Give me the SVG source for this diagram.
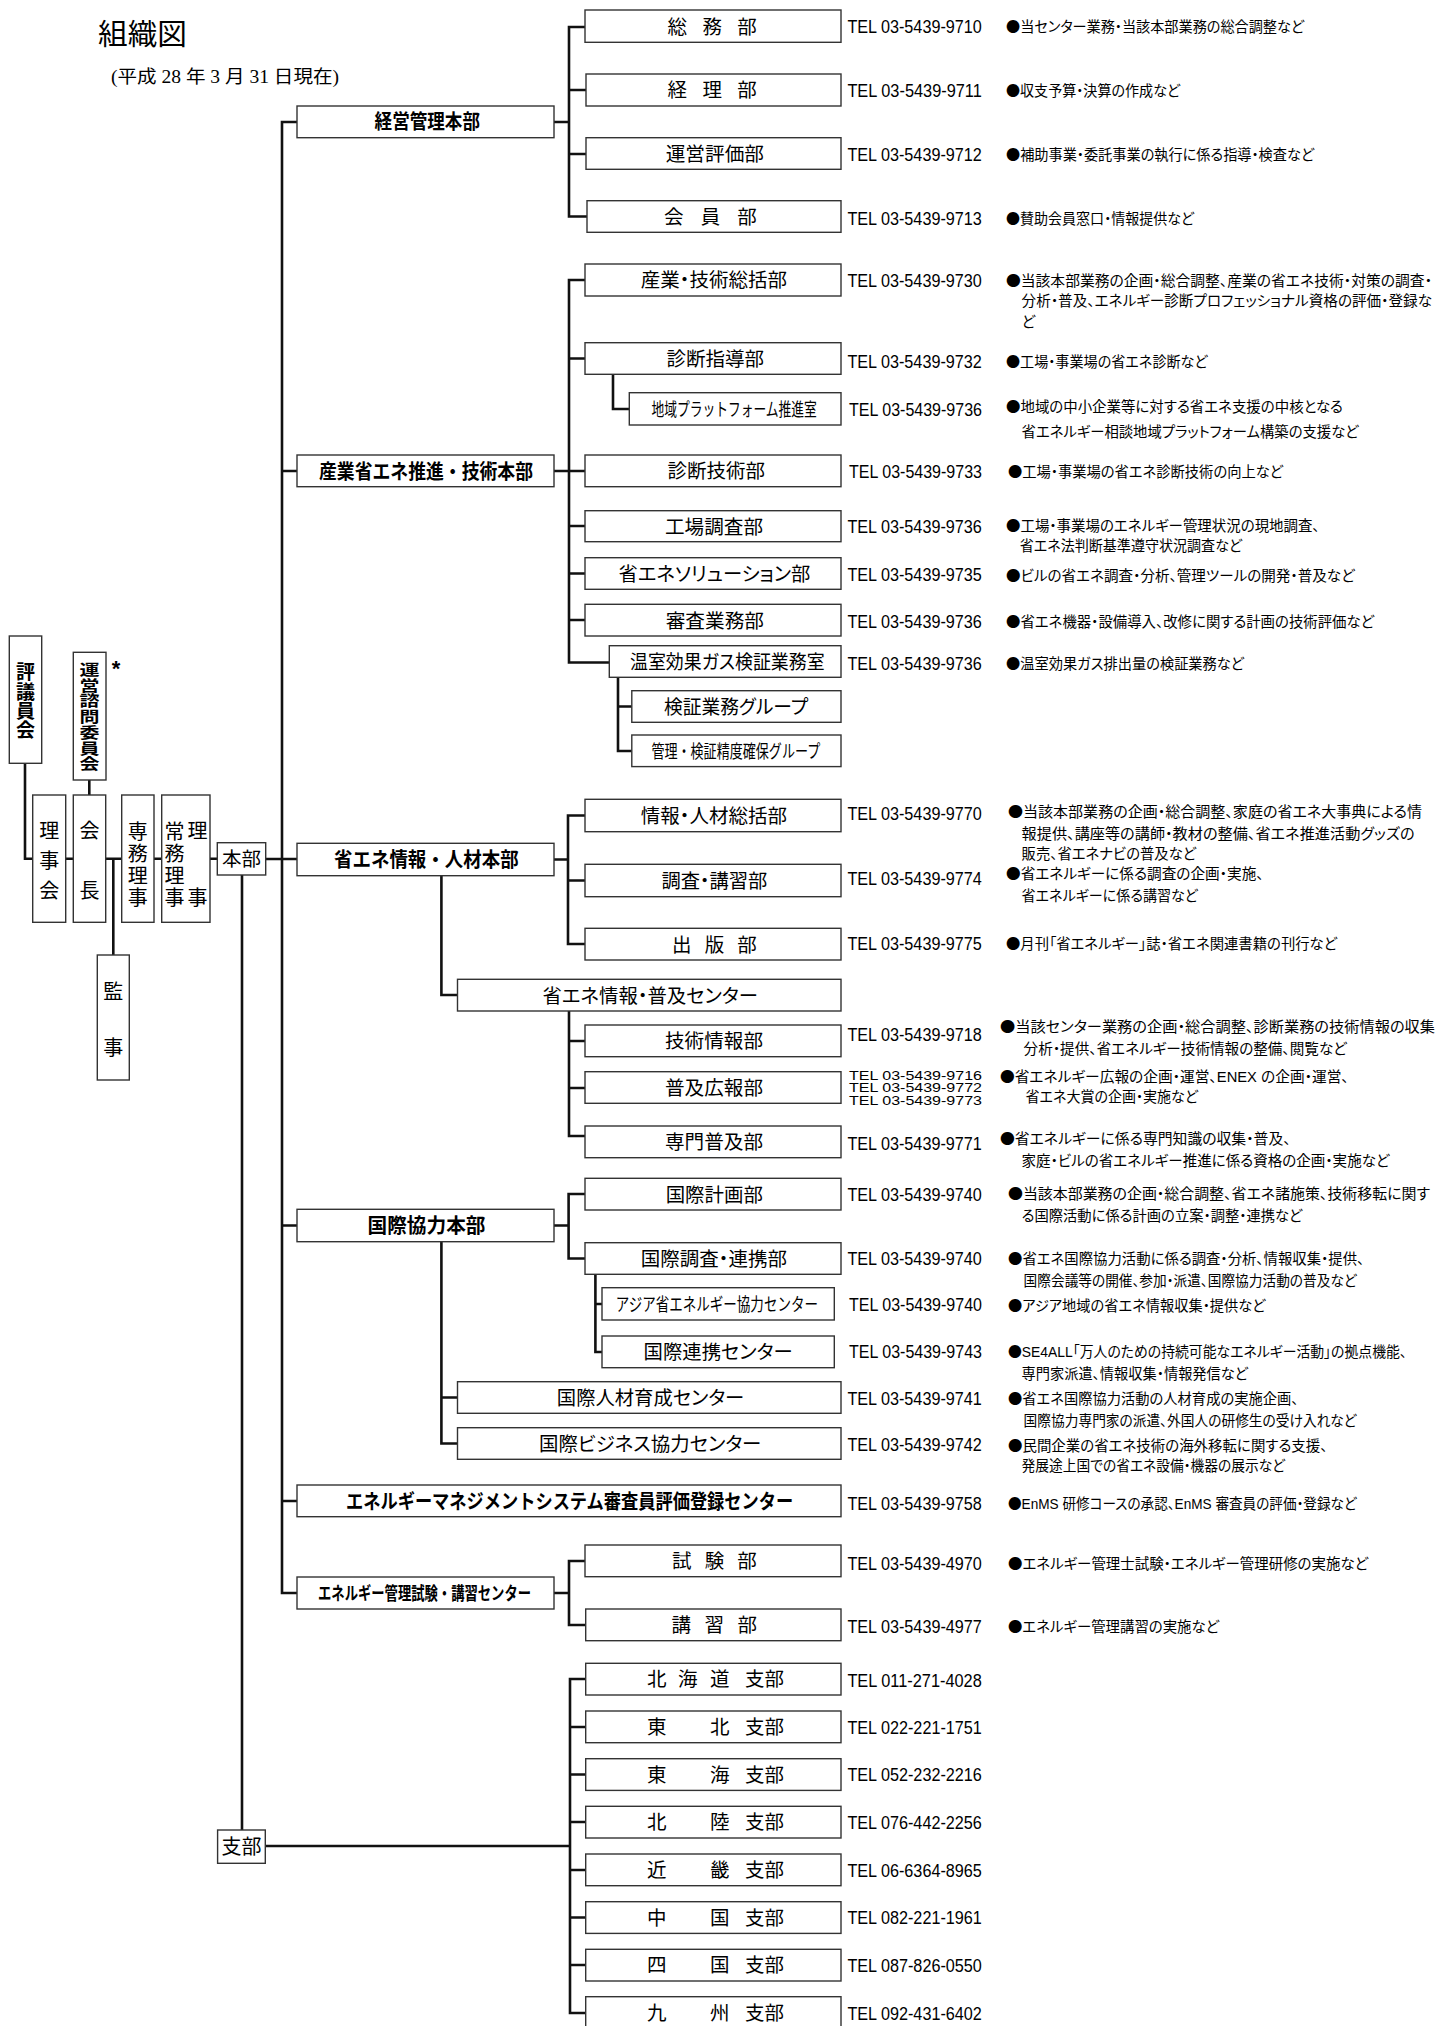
<svg xmlns="http://www.w3.org/2000/svg" width="1437" height="2026" viewBox="0 0 1437 2026">
<style>
.bx{fill:#fff;stroke:#333;stroke-width:1.4}
.cn{fill:none;stroke:#111;stroke-width:2.6;stroke-linejoin:miter;stroke-linecap:butt}
.t1{font-family:"Liberation Sans","Noto Sans CJK JP",sans-serif;font-size:20px;font-weight:bold;fill:#000}
.t2{font-family:"Liberation Sans","Noto Sans CJK JP",sans-serif;font-size:19.5px;fill:#000;font-feature-settings:"palt"}
.nc{font-size:18px;font-feature-settings:normal}
.tv{font-family:"Liberation Sans","Noto Sans CJK JP",sans-serif;font-size:20px;fill:#000;text-anchor:middle}
.tel{font-family:"Liberation Sans","Noto Sans CJK JP",sans-serif;font-size:17.5px;fill:#000}
.tel3{font-family:"Liberation Sans","Noto Sans CJK JP",sans-serif;font-size:13.5px;fill:#000}
.ds{font-family:"Liberation Sans","Noto Sans CJK JP",sans-serif;font-size:14.5px;fill:#000;font-feature-settings:"palt"}
.b{font-family:"Noto Sans CJK JP",sans-serif;font-feature-settings:normal}
.ttl{font-family:"Liberation Serif","Noto Sans CJK JP",serif;fill:#000}
</style>

<g id="title">
<text class="ttl" x="98" y="44.5" font-size="29" textLength="89" lengthAdjust="spacingAndGlyphs">組織図</text>
<text class="ttl" x="111" y="83" font-size="18" textLength="228" lengthAdjust="spacingAndGlyphs">(平成 28 年 3 月 31 日現在)</text>
</g>

<g id="connectors">
<path class="cn" d="M297,122 H282 V1593 H297"/>
<path class="cn" d="M282,471 H297 M265.7,859 H297 M282,1225.5 H297 M282,1501 H297"/>
<path class="cn" d="M554,122 H569 M585,27 H569 V216.5 H587 M569,90 H586 M569,154 H586"/>
<path class="cn" d="M554,471 H569 M585,280 H569 V662.5 H609.3 M569,358.5 H585 M569,471 H585 M569,526 H585 M569,573.5 H585 M569,620 H585"/>
<path class="cn" d="M613,374.3 V409 H629.3 M618,677.3 V751 H631.8 M618,706.5 H631.8"/>
<path class="cn" d="M554,859.5 H568 M585,815.5 H568 V944 H585 M568,880.5 H585"/>
<path class="cn" d="M441.4,875.7 V995 H457.5 M569,1011 V1136 H585 M569,1041 H585 M569,1088 H585"/>
<path class="cn" d="M554,1225.5 H568.6 M585,1194 H568.6 V1258.5 H585 M595.4,1274.3 V1352 H602 M595.4,1304 H602"/>
<path class="cn" d="M441.4,1241.7 V1443.5 H457.5 M441.4,1397.5 H457.5"/>
<path class="cn" d="M554,1593 H569 M585,1561 H569 V1625 H585"/>
<path class="cn" d="M242,875 V1830 M265.3,1846 H570 M585.7,1679 H570 V2013 H585.7 M570,1727 H585.7 M570,1774.5 H585.7 M570,1822 H585.7 M570,1870 H585.7 M570,1917.5 H585.7 M570,1965 H585.7"/>
<path class="cn" d="M25,763.3 V858.7 H32.7 M65.7,858.7 H73.3 M89.3,780 V795 M105.7,858.7 H121.7 M113.3,858.7 V955 M154,858.7 H161.7 M210,858.7 H217.3"/>
</g>

<g id="n-hyogiinkai"><rect class="bx" x="9.3" y="636" width="32.4" height="127.3"/>
<text class="tv" font-weight="bold" style="font-size:19px"><tspan x="25.5" y="679">評</tspan><tspan x="25.5" y="698.5">議</tspan><tspan x="25.5" y="718">員</tspan><tspan x="25.5" y="737">会</tspan></text></g>
<g id="n-unei-shimon"><rect class="bx" x="73.3" y="652.3" width="32.7" height="127.7"/>
<g transform="translate(89.6,716.7) scale(1,0.75)"><text class="tv" font-weight="bold"><tspan x="0" y="-55.6">運</tspan><tspan x="0" y="-34.7">営</tspan><tspan x="0" y="-13.7">諮</tspan><tspan x="0" y="7.2">問</tspan><tspan x="0" y="28.1">委</tspan><tspan x="0" y="49.1">員</tspan><tspan x="0" y="70">会</tspan></text></g>
<text x="116" y="676" font-family="Liberation Sans, sans-serif" font-size="22" font-weight="bold" text-anchor="middle">*</text></g>
<g id="n-rijikai"><rect class="bx" x="32.7" y="795" width="33" height="127.3"/>
<text class="tv"><tspan x="49.3" y="837.5">理</tspan><tspan x="49.3" y="867.5">事</tspan><tspan x="49.3" y="897.5">会</tspan></text></g>
<g id="n-kaicho"><rect class="bx" x="73.3" y="795" width="32.4" height="127.3"/>
<text class="tv"><tspan x="89.5" y="837.5">会</tspan><tspan x="89.5" y="897.5">長</tspan></text></g>
<g id="n-kanji"><rect class="bx" x="97.3" y="955" width="32" height="125"/>
<text class="tv"><tspan x="113.3" y="999">監</tspan><tspan x="113.3" y="1055">事</tspan></text></g>
<g id="n-senmu"><rect class="bx" x="121.7" y="795" width="32.3" height="127.3"/>
<text class="tv"><tspan x="137.8" y="839">専</tspan><tspan x="137.8" y="861">務</tspan><tspan x="137.8" y="883">理</tspan><tspan x="137.8" y="905">事</tspan></text></g>
<g id="n-jomu"><rect class="bx" x="161.7" y="795" width="48.3" height="127.3"/>
<text class="tv"><tspan x="197.5" y="837.5">理</tspan><tspan x="197.5" y="904.5">事</tspan></text>
<text class="tv"><tspan x="174.5" y="839">常</tspan><tspan x="174.5" y="861">務</tspan><tspan x="174.5" y="883">理</tspan><tspan x="174.5" y="905">事</tspan></text></g>
<g id="n-honbu"><rect class="bx" x="217.3" y="842.7" width="48.4" height="32.3"/>
<text class="tv" x="241.5" y="866" style="font-size:19.5px">本部</text></g>
<g id="n-shibu"><rect class="bx" x="217.6" y="1830" width="47.7" height="33.3"/>
<text class="tv" x="241.5" y="1854">支部</text></g>

<g id="n-keiei"><rect class="bx" x="297" y="106" width="257" height="31.7"/><text class="t1" x="374.6" y="129.3" textLength="105.4" lengthAdjust="spacingAndGlyphs">経営管理本部</text></g>
<g id="n-sangyo"><rect class="bx" x="297" y="455" width="257" height="31.7"/><text class="t1" x="319" y="478.8" textLength="214" lengthAdjust="spacingAndGlyphs">産業省エネ推進・技術本部</text></g>
<g id="n-joho"><rect class="bx" x="297" y="843.3" width="257" height="32.4"/><text class="t1" x="334" y="867" textLength="184.6" lengthAdjust="spacingAndGlyphs">省エネ情報・人材本部</text></g>
<g id="n-kokusai"><rect class="bx" x="297" y="1209.3" width="257" height="32.4"/><text class="t1" x="367.5" y="1233" textLength="118" lengthAdjust="spacingAndGlyphs">国際協力本部</text></g>
<g id="n-enms"><rect class="bx" x="297" y="1485" width="544" height="31.7"/><text class="t1" transform="matrix(0.8615,0,0,1,346,1508.6)" x="0" y="0">エネルギーマネジメントシステム審査員評価登録センター</text></g>
<g id="n-kanrishiken"><rect class="bx" x="297" y="1577" width="257" height="32"/><text class="t1" style="font-size:18px" transform="matrix(0.74,0,0,1,318,1600)" x="0" y="0">エネルギー管理試験・講習センター</text></g>

<g id="n-somu"><rect class="bx" x="585" y="10" width="256" height="32.3"/><text class="t2" x="667.5" y="33.6" textLength="89.3" lengthAdjust="spacing">総務部</text></g>
<g id="n-keiri"><rect class="bx" x="586" y="74" width="255" height="32"/><text class="t2" x="667.5" y="97.4" textLength="89.3" lengthAdjust="spacing">経理部</text></g>
<g id="n-hyoka"><rect class="bx" x="586" y="137.7" width="255" height="31.6"/><text class="t2" x="665.7" y="160.9" textLength="98.3" lengthAdjust="spacingAndGlyphs">運営評価部</text></g>
<g id="n-kaiin"><rect class="bx" x="587" y="200.7" width="254" height="31.6"/><text class="t2" x="664" y="223.9" textLength="92.8" lengthAdjust="spacing">会員部</text></g>

<g id="n-sokatsu"><rect class="bx" x="585" y="264" width="256" height="32"/><text class="t2" x="640.7" y="287.4" textLength="146.3" lengthAdjust="spacingAndGlyphs">産業・技術総括部</text></g>
<g id="n-shidan-shido"><rect class="bx" x="585" y="342.7" width="256" height="31.6"/><text class="t2" x="666.4" y="365.9" textLength="97.6" lengthAdjust="spacingAndGlyphs">診断指導部</text></g>
<g id="n-chiiki"><rect class="bx" x="629.3" y="392.7" width="211.7" height="32.3"/><text class="t2 nc" transform="matrix(0.709,0,0,1,651.4,416.2)" x="0" y="0">地域プラットフォーム推進室</text></g>
<g id="n-shidan-gijutsu"><rect class="bx" x="585" y="455" width="256" height="31.7"/><text class="t2" x="667.5" y="478.3" textLength="97.5" lengthAdjust="spacingAndGlyphs">診断技術部</text></g>
<g id="n-kojo"><rect class="bx" x="585" y="510.7" width="256" height="31"/><text class="t2" x="665" y="533.6" textLength="98" lengthAdjust="spacingAndGlyphs">工場調査部</text></g>
<g id="n-solution"><rect class="bx" x="585" y="557.7" width="256" height="31.6"/><text class="t2" x="618.6" y="580.9" textLength="191.8" lengthAdjust="spacingAndGlyphs">省エネソリューション部</text></g>
<g id="n-shinsa"><rect class="bx" x="585" y="604.3" width="256" height="31.7"/><text class="t2" x="665.7" y="627.6" textLength="98.3" lengthAdjust="spacingAndGlyphs">審査業務部</text></g>
<g id="n-onshitsu"><rect class="bx" x="609.3" y="645.7" width="231.7" height="31.6"/><text class="t2" x="630" y="668.9" textLength="194.6" lengthAdjust="spacingAndGlyphs">温室効果ガス検証業務室</text></g>
<g id="n-kensho"><rect class="bx" x="631.8" y="690.7" width="209.2" height="31.6"/><text class="t2" x="664" y="713.9" textLength="144" lengthAdjust="spacingAndGlyphs">検証業務グループ</text></g>
<g id="n-kanri-kensho"><rect class="bx" x="631.8" y="735" width="209.2" height="31.6"/><text class="t2 nc" transform="matrix(0.725,0,0,1,651.4,758.2)" x="0" y="0">管理・検証精度確保グループ</text></g>

<g id="n-joho-sokatsu"><rect class="bx" x="585" y="799.3" width="256" height="32.4"/><text class="t2" x="640.7" y="822.9" textLength="146.3" lengthAdjust="spacingAndGlyphs">情報・人材総括部</text></g>
<g id="n-chosa-koshu"><rect class="bx" x="585" y="864.3" width="256" height="32.4"/><text class="t2" x="661.4" y="887.9" textLength="106" lengthAdjust="spacingAndGlyphs">調査・講習部</text></g>
<g id="n-shuppan"><rect class="bx" x="585" y="928.3" width="256" height="31.7"/><text class="t2" x="672" y="951.6" textLength="84.8" lengthAdjust="spacing">出版部</text></g>
<g id="n-fukyu-center"><rect class="bx" x="457.5" y="979.3" width="383.5" height="31.7"/><text class="t2" x="542.5" y="1002.6" textLength="215.4" lengthAdjust="spacingAndGlyphs">省エネ情報・普及センター</text></g>
<g id="n-gijutsu-joho"><rect class="bx" x="585" y="1025" width="256" height="31.7"/><text class="t2" x="665" y="1048.3" textLength="98" lengthAdjust="spacingAndGlyphs">技術情報部</text></g>
<g id="n-fukyu-koho"><rect class="bx" x="585" y="1071.7" width="256" height="31.6"/><text class="t2" x="665" y="1094.9" textLength="98" lengthAdjust="spacingAndGlyphs">普及広報部</text></g>
<g id="n-senmon"><rect class="bx" x="585" y="1126" width="256" height="31.7"/><text class="t2" x="665" y="1149.3" textLength="98" lengthAdjust="spacingAndGlyphs">専門普及部</text></g>

<g id="n-kokusai-keikaku"><rect class="bx" x="585" y="1178.3" width="256" height="31.7"/><text class="t2" x="665.7" y="1201.6" textLength="97.2" lengthAdjust="spacingAndGlyphs">国際計画部</text></g>
<g id="n-kokusai-chosa"><rect class="bx" x="585" y="1242.7" width="256" height="31.6"/><text class="t2" x="640.7" y="1265.9" textLength="146.3" lengthAdjust="spacingAndGlyphs">国際調査・連携部</text></g>
<g id="n-asia"><rect class="bx" x="602" y="1287.7" width="232.3" height="32.3"/><text class="t2 nc" transform="matrix(0.752,0,0,1,615.7,1311.2)" x="0" y="0">アジア省エネルギー協力センター</text></g>
<g id="n-renkei"><rect class="bx" x="602" y="1336" width="232.3" height="31.7"/><text class="t2" x="643.6" y="1359.3" textLength="149" lengthAdjust="spacingAndGlyphs">国際連携センター</text></g>
<g id="n-jinzai"><rect class="bx" x="457.5" y="1381.7" width="383.5" height="31.6"/><text class="t2" x="556.8" y="1404.9" textLength="187.5" lengthAdjust="spacingAndGlyphs">国際人材育成センター</text></g>
<g id="n-business"><rect class="bx" x="457.5" y="1427.7" width="383.5" height="31.6"/><text class="t2" x="539" y="1450.9" textLength="222.4" lengthAdjust="spacingAndGlyphs">国際ビジネス協力センター</text></g>

<g id="n-shiken"><rect class="bx" x="585" y="1545" width="256" height="31.7"/><text class="t2" x="672" y="1568.3" textLength="84.8" lengthAdjust="spacing">試験部</text></g>
<g id="n-koshu"><rect class="bx" x="585.7" y="1609" width="255.3" height="31.7"/><text class="t2" x="671.4" y="1632.3" textLength="85.7" lengthAdjust="spacing">講習部</text></g>

<g id="n-hokkaido"><rect class="bx" x="585.7" y="1663.3" width="255.3" height="31.7"/><text class="t2" y="1686.4"><tspan x="647">北</tspan><tspan x="678">海</tspan><tspan x="710">道</tspan><tspan x="745">支部</tspan></text></g>
<g id="n-tohoku"><rect class="bx" x="585.7" y="1711" width="255.3" height="31.7"/><text class="t2" y="1734.1"><tspan x="647">東</tspan><tspan x="710">北</tspan><tspan x="745">支部</tspan></text></g>
<g id="n-tokai"><rect class="bx" x="585.7" y="1758.7" width="255.3" height="31.7"/><text class="t2" y="1781.8"><tspan x="647">東</tspan><tspan x="710">海</tspan><tspan x="745">支部</tspan></text></g>
<g id="n-hokuriku"><rect class="bx" x="585.7" y="1806.3" width="255.3" height="31.7"/><text class="t2" y="1829.4"><tspan x="647">北</tspan><tspan x="710">陸</tspan><tspan x="745">支部</tspan></text></g>
<g id="n-kinki"><rect class="bx" x="585.7" y="1854" width="255.3" height="31.7"/><text class="t2" y="1877.1"><tspan x="647">近</tspan><tspan x="710">畿</tspan><tspan x="745">支部</tspan></text></g>
<g id="n-chugoku"><rect class="bx" x="585.7" y="1901.7" width="255.3" height="31.7"/><text class="t2" y="1924.8"><tspan x="647">中</tspan><tspan x="710">国</tspan><tspan x="745">支部</tspan></text></g>
<g id="n-shikoku"><rect class="bx" x="585.7" y="1949.3" width="255.3" height="31.7"/><text class="t2" y="1972.4"><tspan x="647">四</tspan><tspan x="710">国</tspan><tspan x="745">支部</tspan></text></g>
<g id="n-kyushu"><rect class="bx" x="585.7" y="1996.7" width="255.3" height="31.7"/><text class="t2" y="2019.8"><tspan x="647">九</tspan><tspan x="710">州</tspan><tspan x="745">支部</tspan></text></g>

<g id="tel">
<text class="tel" x="847.4" y="33.1" textLength="134.4" lengthAdjust="spacingAndGlyphs">TEL 03-5439-9710</text>
<text class="tel" x="847.4" y="97" textLength="134.4" lengthAdjust="spacingAndGlyphs">TEL 03-5439-9711</text>
<text class="tel" x="847.4" y="161.4" textLength="134.4" lengthAdjust="spacingAndGlyphs">TEL 03-5439-9712</text>
<text class="tel" x="847.4" y="224.7" textLength="134.4" lengthAdjust="spacingAndGlyphs">TEL 03-5439-9713</text>
<text class="tel" x="847.4" y="287.4" textLength="134.4" lengthAdjust="spacingAndGlyphs">TEL 03-5439-9730</text>
<text class="tel" x="847.4" y="368.1" textLength="134.4" lengthAdjust="spacingAndGlyphs">TEL 03-5439-9732</text>
<text class="tel" x="849" y="416.4" textLength="133" lengthAdjust="spacingAndGlyphs">TEL 03-5439-9736</text>
<text class="tel" x="849" y="478.1" textLength="133" lengthAdjust="spacingAndGlyphs">TEL 03-5439-9733</text>
<text class="tel" x="847.4" y="533.1" textLength="134.4" lengthAdjust="spacingAndGlyphs">TEL 03-5439-9736</text>
<text class="tel" x="847.4" y="581.4" textLength="134.4" lengthAdjust="spacingAndGlyphs">TEL 03-5439-9735</text>
<text class="tel" x="847.4" y="628.1" textLength="134.4" lengthAdjust="spacingAndGlyphs">TEL 03-5439-9736</text>
<text class="tel" x="847.4" y="669.7" textLength="134.4" lengthAdjust="spacingAndGlyphs">TEL 03-5439-9736</text>
<text class="tel" x="847.4" y="819.7" textLength="134.4" lengthAdjust="spacingAndGlyphs">TEL 03-5439-9770</text>
<text class="tel" x="847.4" y="884.7" textLength="134.4" lengthAdjust="spacingAndGlyphs">TEL 03-5439-9774</text>
<text class="tel" x="847.4" y="949.7" textLength="134.4" lengthAdjust="spacingAndGlyphs">TEL 03-5439-9775</text>
<text class="tel" x="847.4" y="1041.4" textLength="134.4" lengthAdjust="spacingAndGlyphs">TEL 03-5439-9718</text>
<text class="tel3" x="849" y="1079.5" textLength="133" lengthAdjust="spacingAndGlyphs">TEL 03-5439-9716</text>
<text class="tel3" x="849" y="1092" textLength="133" lengthAdjust="spacingAndGlyphs">TEL 03-5439-9772</text>
<text class="tel3" x="849" y="1104.5" textLength="133" lengthAdjust="spacingAndGlyphs">TEL 03-5439-9773</text>
<text class="tel" x="847.4" y="1149.7" textLength="134.4" lengthAdjust="spacingAndGlyphs">TEL 03-5439-9771</text>
<text class="tel" x="847.4" y="1201.4" textLength="134.4" lengthAdjust="spacingAndGlyphs">TEL 03-5439-9740</text>
<text class="tel" x="847.4" y="1264.7" textLength="134.4" lengthAdjust="spacingAndGlyphs">TEL 03-5439-9740</text>
<text class="tel" x="849" y="1311.4" textLength="133" lengthAdjust="spacingAndGlyphs">TEL 03-5439-9740</text>
<text class="tel" x="849" y="1358.1" textLength="133" lengthAdjust="spacingAndGlyphs">TEL 03-5439-9743</text>
<text class="tel" x="847.4" y="1404.7" textLength="134.4" lengthAdjust="spacingAndGlyphs">TEL 03-5439-9741</text>
<text class="tel" x="847.4" y="1451.4" textLength="134.4" lengthAdjust="spacingAndGlyphs">TEL 03-5439-9742</text>
<text class="tel" x="847.4" y="1509.7" textLength="134.4" lengthAdjust="spacingAndGlyphs">TEL 03-5439-9758</text>
<text class="tel" x="847.4" y="1569.7" textLength="134.4" lengthAdjust="spacingAndGlyphs">TEL 03-5439-4970</text>
<text class="tel" x="847.4" y="1633.1" textLength="134.4" lengthAdjust="spacingAndGlyphs">TEL 03-5439-4977</text>
<text class="tel" x="847.4" y="1687.4" textLength="134.4" lengthAdjust="spacingAndGlyphs">TEL 011-271-4028</text>
<text class="tel" x="847.4" y="1734.1" textLength="134.4" lengthAdjust="spacingAndGlyphs">TEL 022-221-1751</text>
<text class="tel" x="847.4" y="1781.4" textLength="134.4" lengthAdjust="spacingAndGlyphs">TEL 052-232-2216</text>
<text class="tel" x="847.4" y="1829.1" textLength="134.4" lengthAdjust="spacingAndGlyphs">TEL 076-442-2256</text>
<text class="tel" x="847.4" y="1877.1" textLength="134.4" lengthAdjust="spacingAndGlyphs">TEL 06-6364-8965</text>
<text class="tel" x="847.4" y="1924.1" textLength="134.4" lengthAdjust="spacingAndGlyphs">TEL 082-221-1961</text>
<text class="tel" x="847.4" y="1972.1" textLength="134.4" lengthAdjust="spacingAndGlyphs">TEL 087-826-0550</text>
<text class="tel" x="847.4" y="2019.7" textLength="134.4" lengthAdjust="spacingAndGlyphs">TEL 092-431-6402</text>
</g>

<g id="descriptions">
<text class="ds" x="1006" y="32.2" textLength="298" lengthAdjust="spacingAndGlyphs"><tspan class="b">●</tspan>当センター業務・当該本部業務の総合調整など</text>
<text class="ds" x="1006" y="96" textLength="174" lengthAdjust="spacingAndGlyphs"><tspan class="b">●</tspan>収支予算・決算の作成など</text>
<text class="ds" x="1006" y="160.3" textLength="308" lengthAdjust="spacingAndGlyphs"><tspan class="b">●</tspan>補助事業・委託事業の執行に係る指導・検査など</text>
<text class="ds" x="1006" y="223.8" textLength="188" lengthAdjust="spacingAndGlyphs"><tspan class="b">●</tspan>賛助会員窓口・情報提供など</text>
<text class="ds" x="1006" y="286" textLength="426" lengthAdjust="spacingAndGlyphs"><tspan class="b">●</tspan>当該本部業務の企画・総合調整、産業の省エネ技術・対策の調査・</text>
<text class="ds" x="1021.6" y="305.8" textLength="410.4" lengthAdjust="spacingAndGlyphs">分析・普及、エネルギー診断プロフェッショナル資格の評価・登録な</text>
<text class="ds" x="1021.6" y="326.5">ど</text>
<text class="ds" x="1006" y="367.2" textLength="201.5" lengthAdjust="spacingAndGlyphs"><tspan class="b">●</tspan>工場・事業場の省エネ診断など</text>
<text class="ds" x="1006" y="412.2" textLength="337" lengthAdjust="spacingAndGlyphs"><tspan class="b">●</tspan>地域の中小企業等に対する省エネ支援の中核となる</text>
<text class="ds" x="1021.6" y="437.2" textLength="336.9" lengthAdjust="spacingAndGlyphs">省エネルギー相談地域プラットフォーム構築の支援など</text>
<text class="ds" x="1008" y="477.2" textLength="275" lengthAdjust="spacingAndGlyphs"><tspan class="b">●</tspan>工場・事業場の省エネ診断技術の向上など</text>
<text class="ds" x="1006" y="530.5" textLength="313.7" lengthAdjust="spacingAndGlyphs"><tspan class="b">●</tspan>工場・事業場のエネルギー管理状況の現地調査、</text>
<text class="ds" x="1019.7" y="550.5" textLength="222.3" lengthAdjust="spacingAndGlyphs">省エネ法判断基準遵守状況調査など</text>
<text class="ds" x="1006" y="580.5" textLength="348.6" lengthAdjust="spacingAndGlyphs"><tspan class="b">●</tspan>ビルの省エネ調査・分析、管理ツールの開発・普及など</text>
<text class="ds" x="1006" y="627.2" textLength="368" lengthAdjust="spacingAndGlyphs"><tspan class="b">●</tspan>省エネ機器・設備導入、改修に関する計画の技術評価など</text>
<text class="ds" x="1006" y="668.8" textLength="238" lengthAdjust="spacingAndGlyphs"><tspan class="b">●</tspan>温室効果ガス排出量の検証業務など</text>
<text class="ds" x="1008" y="817.2" textLength="414" lengthAdjust="spacingAndGlyphs"><tspan class="b">●</tspan>当該本部業務の企画・総合調整、家庭の省エネ大事典による情</text>
<text class="ds" x="1021.6" y="838.8" textLength="393" lengthAdjust="spacingAndGlyphs">報提供、講座等の講師・教材の整備、省エネ推進活動グッズの</text>
<text class="ds" x="1021.6" y="858.8" textLength="174.4" lengthAdjust="spacingAndGlyphs">販売、省エネナビの普及など</text>
<text class="ds" x="1006" y="878.8" textLength="257.6" lengthAdjust="spacingAndGlyphs"><tspan class="b">●</tspan>省エネルギーに係る調査の企画・実施、</text>
<text class="ds" x="1021.6" y="900.5" textLength="176.2" lengthAdjust="spacingAndGlyphs">省エネルギーに係る講習など</text>
<text class="ds" x="1006" y="948.8" textLength="331" lengthAdjust="spacingAndGlyphs"><tspan class="b">●</tspan>月刊「省エネルギー」誌・省エネ関連書籍の刊行など</text>
<text class="ds" x="1000" y="1032.2" textLength="435" lengthAdjust="spacingAndGlyphs"><tspan class="b">●</tspan>当該センター業務の企画・総合調整、診断業務の技術情報の収集</text>
<text class="ds" x="1023.6" y="1053.8" textLength="323.2" lengthAdjust="spacingAndGlyphs">分析・提供、省エネルギー技術情報の整備、閲覧など</text>
<text class="ds" x="1000" y="1082.2" textLength="348.8" lengthAdjust="spacingAndGlyphs"><tspan class="b">●</tspan>省エネルギー広報の企画・運営、ENEX の企画・運営、</text>
<text class="ds" x="1025.5" y="1102.2" textLength="172.3" lengthAdjust="spacingAndGlyphs">省エネ大賞の企画・実施など</text>
<text class="ds" x="1000" y="1143.8" textLength="290.7" lengthAdjust="spacingAndGlyphs"><tspan class="b">●</tspan>省エネルギーに係る専門知識の収集・普及、</text>
<text class="ds" x="1021.6" y="1165.5" textLength="367.8" lengthAdjust="spacingAndGlyphs">家庭・ビルの省エネルギー推進に係る資格の企画・実施など</text>
<text class="ds" x="1008" y="1198.8" textLength="422" lengthAdjust="spacingAndGlyphs"><tspan class="b">●</tspan>当該本部業務の企画・総合調整、省エネ諸施策、技術移転に関す</text>
<text class="ds" x="1021.6" y="1220.5" textLength="280.7" lengthAdjust="spacingAndGlyphs">る国際活動に係る計画の立案・調整・連携など</text>
<text class="ds" x="1008" y="1263.8" textLength="356.2" lengthAdjust="spacingAndGlyphs"><tspan class="b">●</tspan>省エネ国際協力活動に係る調査・分析、情報収集・提供、</text>
<text class="ds" x="1023.6" y="1285.5" textLength="332.9" lengthAdjust="spacingAndGlyphs">国際会議等の開催、参加・派遣、国際協力活動の普及など</text>
<text class="ds" x="1008" y="1310.5" textLength="257.5" lengthAdjust="spacingAndGlyphs"><tspan class="b">●</tspan>アジア地域の省エネ情報収集・提供など</text>
<text class="ds" x="1008" y="1357.2" textLength="398.8" lengthAdjust="spacingAndGlyphs"><tspan class="b">●</tspan>SE4ALL「万人のための持続可能なエネルギー活動」の拠点機能、</text>
<text class="ds" x="1021.6" y="1378.8" textLength="226.4" lengthAdjust="spacingAndGlyphs">専門家派遣、情報収集・情報発信など</text>
<text class="ds" x="1008" y="1403.8" textLength="290.4" lengthAdjust="spacingAndGlyphs"><tspan class="b">●</tspan>省エネ国際協力活動の人材育成の実施企画、</text>
<text class="ds" x="1023.6" y="1425.5" textLength="332.9" lengthAdjust="spacingAndGlyphs">国際協力専門家の派遣、外国人の研修生の受け入れなど</text>
<text class="ds" x="1008" y="1450.5" textLength="319.5" lengthAdjust="spacingAndGlyphs"><tspan class="b">●</tspan>民間企業の省エネ技術の海外移転に関する支援、</text>
<text class="ds" x="1021.6" y="1470.5" textLength="263.4" lengthAdjust="spacingAndGlyphs">発展途上国での省エネ設備・機器の展示など</text>
<text class="ds" x="1008" y="1508.5" textLength="348.5" lengthAdjust="spacingAndGlyphs"><tspan class="b">●</tspan>EnMS 研修コースの承認、EnMS 審査員の評価・登録など</text>
<text class="ds" x="1008" y="1568.8" textLength="360" lengthAdjust="spacingAndGlyphs"><tspan class="b">●</tspan>エネルギー管理士試験・エネルギー管理研修の実施など</text>
<text class="ds" x="1008" y="1632.2" textLength="211" lengthAdjust="spacingAndGlyphs"><tspan class="b">●</tspan>エネルギー管理講習の実施など</text>
</g>
</svg>
